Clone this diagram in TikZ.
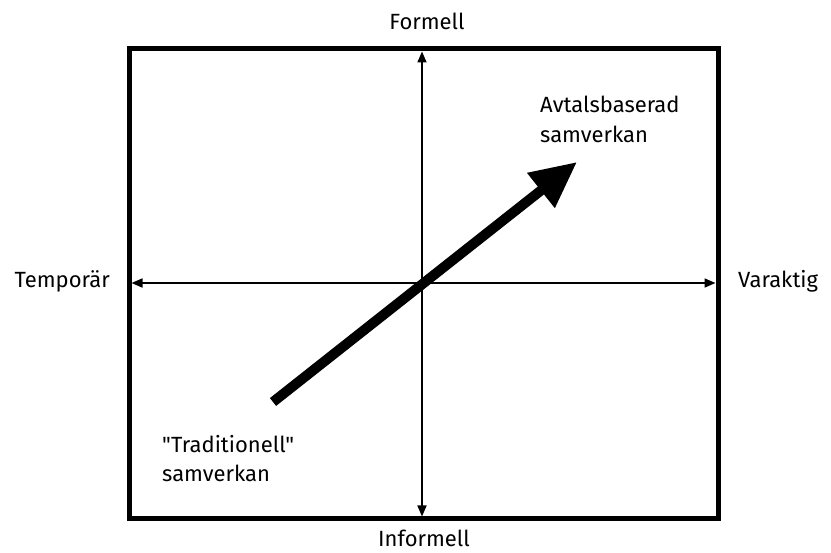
\documentclass[tikz,border=0pt]{standalone}
\usepackage{fontspec}
\setmainfont{Fira Sans}[Ligatures=TeXOff]
\usepackage{tikz}
\usetikzlibrary{arrows.meta}

\tikzset{
  axis/.style={line width=1.6pt, -{Triangle[length=11pt,width=9pt]}},
  lbl/.style={font=\fontsize{22}{29.5}\selectfont, inner sep=0pt},
}

\begin{document}
\begin{tikzpicture}[x=1pt,y=-1pt]
\useasboundingbox (0,0) rectangle (831,553);

% frame
\draw[line width=5pt] (129,49) rectangle (718,519);

% axes
\coordinate (c) at (422,283);
\coordinate (top) at (422,51.5);
\coordinate (bot) at (422,516.5);
\coordinate (lft) at (131.5,283);
\coordinate (rgt) at (715.5,283);
\draw[axis] (c) -- (top);
\draw[axis] (c) -- (bot);
\draw[axis] (c) -- (lft);
\draw[axis] (c) -- (rgt);

% axis labels
\node[lbl, anchor=base] (formell) at (427,30) {Formell};
\node[lbl, anchor=base] (informell) at (424,547) {Informell};
\node[lbl, anchor=base east] (temp) at (110,288) {Temporär};
\node[lbl, anchor=base west] (varak) at (738,288) {Varaktig};

% development arrow
\coordinate (from) at (273,402);
\coordinate (to) at (577,162);
\draw[line width=10pt, -{Triangle[length=46pt,width=42pt]}] (from) -- (to);

\node[lbl, anchor=north west, align=left] (avtal) at (540,96) {Avtalsbaserad\\samverkan};
\node[lbl, anchor=north west, align=left] (trad) at (162,435) {"Traditionell"\\samverkan};

\end{tikzpicture}
\end{document}
